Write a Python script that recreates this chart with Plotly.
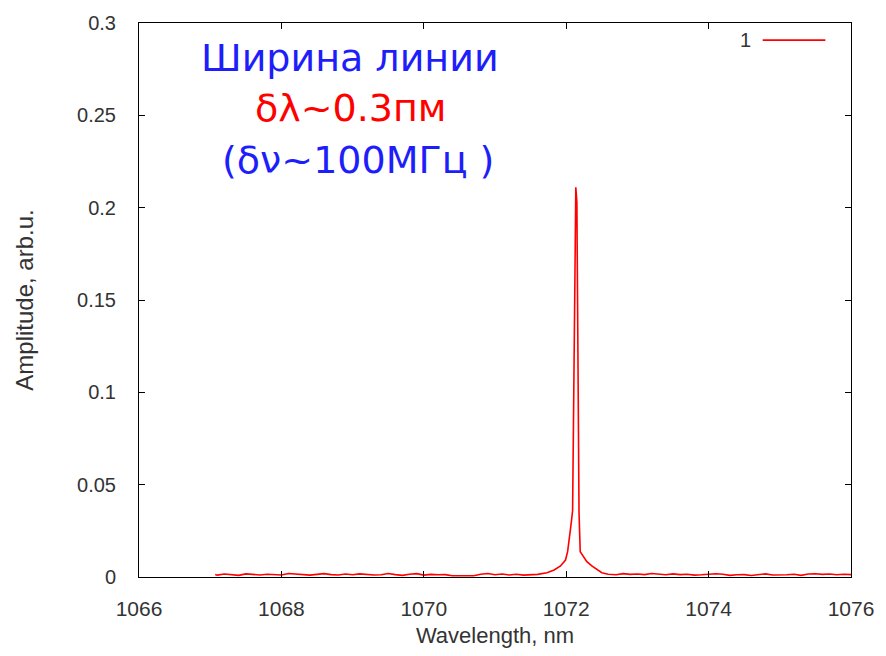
import plotly.graph_objects as go

# Wavelength (nm) and amplitude (arb.u., in units of 1e-3)
wavelength = [
    1067.07, 1067.1, 1067.2, 1067.3, 1067.4, 1067.5, 1067.6, 1067.7, 1067.8, 1067.9,
    1068.0, 1068.1, 1068.2, 1068.3, 1068.4, 1068.5, 1068.6, 1068.7, 1068.8, 1068.9,
    1069.0, 1069.1, 1069.2, 1069.3, 1069.4, 1069.5, 1069.6, 1069.7, 1069.8, 1069.9,
    1070.0, 1070.1, 1070.2, 1070.3, 1070.4, 1070.5, 1070.6, 1070.7, 1070.8, 1070.9,
    1071.0, 1071.1, 1071.2, 1071.3, 1071.4, 1071.5, 1071.6,
    1071.73, 1071.83, 1071.92, 1071.99, 1072.02, 1072.05, 1072.07, 1072.09,
    1072.10, 1072.12, 1072.135, 1072.15, 1072.165, 1072.18, 1072.197,
    1072.244, 1072.29, 1072.36, 1072.43, 1072.50, 1072.59,
    1072.7, 1072.8, 1072.9, 1073.0, 1073.1, 1073.2, 1073.3, 1073.4, 1073.5, 1073.6,
    1073.7, 1073.8, 1073.9, 1074.0, 1074.1, 1074.2, 1074.3, 1074.4, 1074.5, 1074.6,
    1074.7, 1074.8, 1074.9, 1075.0, 1075.1, 1075.2, 1075.3, 1075.4, 1075.5, 1075.6,
    1075.7, 1075.8, 1075.9, 1076.0,
]
amplitude_milli = [
    1.4, 1.0, 1.6, 1.2, 0.9, 1.7, 1.3, 1.1, 1.5, 1.2,
    1.1, 1.9, 1.6, 1.2, 1.0, 1.4, 1.8, 1.3, 1.1, 1.6,
    1.2, 1.7, 1.3, 1.1, 1.2, 1.9, 1.3, 0.9, 1.5, 1.8,
    1.0, 1.4, 1.2, 1.3, 0.7, 0.6, 0.7, 0.7, 1.5, 1.9,
    1.2, 1.6, 1.1, 1.5, 1.0, 1.2, 1.4,
    2.3, 3.8, 6.0, 9.2, 13.7, 21.8, 29.0, 36.0,
    83.0, 183.0, 211.0, 203.0, 112.0, 35.0, 13.7,
    11.0, 8.3, 6.0, 4.2, 2.3, 1.5,
    1.2, 1.8, 1.4, 1.6, 1.3, 1.9, 1.4, 1.2, 1.7, 1.3,
    1.5, 1.0, 1.2, 1.4, 1.8, 1.5, 0.9, 1.2, 1.3, 0.8,
    1.4, 1.7, 1.1, 1.0, 1.2, 1.5, 0.9, 1.6, 1.8, 1.4,
    1.6, 1.2, 1.5, 1.3,
]
amplitude = [v / 1000.0 for v in amplitude_milli]

x_ticks = [1066, 1068, 1070, 1072, 1074, 1076]
y_ticks = [0, 0.05, 0.1, 0.15, 0.2, 0.25, 0.3]
y_tick_labels = ["0", "0.05", "0.1", "0.15", "0.2", "0.25", "0.3"]

text_lines = [
    ("Ширина линии", "#1e1efa"),
    ("δλ~0.3пм", "#ff0000"),
    ("(δν~100МГц )", "#1e1efa"),
]
legend_label = "1"

RED = "#ff0000"
FONT_FAMILY = "Liberation Sans, Arial, sans-serif"
TICK_FONT = dict(family=FONT_FAMILY, size=20, color="#333333")
XTICK_FONT = dict(family=FONT_FAMILY, size=21, color="#333333")
XTITLE_FONT = dict(family=FONT_FAMILY, size=22, color="#333333")
YTITLE_FONT = dict(family=FONT_FAMILY, size=24, color="#333333")

fig = go.Figure()
fig.add_trace(go.Scatter(
    x=wavelength, y=amplitude, mode="lines",
    line=dict(color=RED, width=1.6), name=legend_label, showlegend=False,
))

axis_common = dict(
    showgrid=False, zeroline=False, showline=True, linecolor="#000000", linewidth=1,
    mirror="ticks", ticks="inside", ticklen=6, tickcolor="#000000", tickwidth=1,
)

fig.update_xaxes(
    range=[1066, 1076], tickvals=x_ticks, ticktext=[str(v) for v in x_ticks],
    ticklabelstandoff=13, tickfont=XTICK_FONT,
    title=dict(text="Wavelength, nm", font=XTITLE_FONT, standoff=8),
    **axis_common,
)
fig.update_yaxes(
    range=[0, 0.3], tickvals=y_ticks, ticktext=y_tick_labels,
    ticklabelstandoff=18, tickfont=TICK_FONT,
    title=dict(text="Amplitude, arb.u.", font=YTITLE_FONT, standoff=36),
    **axis_common,
)

# Text block inside the plot
y_positions = [0.937, 0.847, 0.752]
x_positions = [0.296, 0.298, 0.308]
for (txt, col), yp, xp in zip(text_lines, y_positions, x_positions):
    fig.add_annotation(
        text=txt, xref="paper", yref="paper", x=xp, y=yp,
        xanchor="center", yanchor="middle", showarrow=False,
        font=dict(family="DejaVu Sans, sans-serif", size=38, color=col),
    )

# gnuplot-style key: label then line sample
fig.add_annotation(
    text=legend_label, xref="paper", yref="paper", x=0.862, y=0.969,
    xanchor="right", yanchor="middle", showarrow=False, font=TICK_FONT,
)
fig.add_shape(
    type="line", xref="paper", yref="paper", x0=0.876, x1=0.964, y0=0.969, y1=0.969,
    line=dict(color=RED, width=1.6),
)

fig.update_layout(
    width=886, height=656,
    margin=dict(l=139, r=30, t=22, b=79),
    paper_bgcolor="#ffffff", plot_bgcolor="#ffffff",
    showlegend=False,
)

fig.write_html("out.html")
